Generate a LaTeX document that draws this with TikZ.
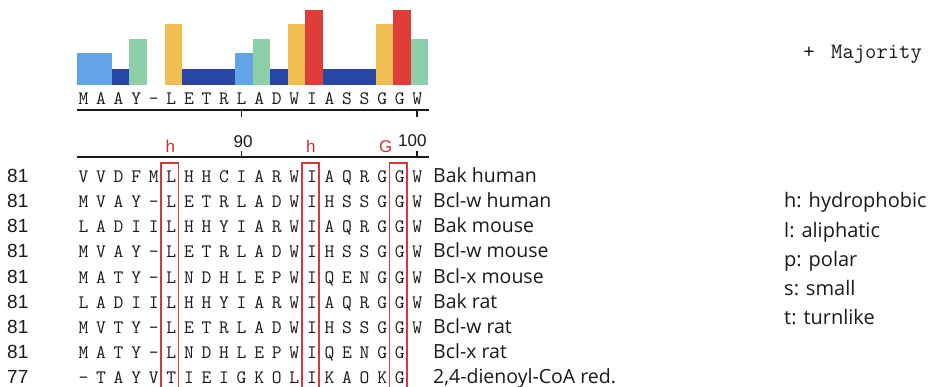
\documentclass[tikz,border=0pt]{standalone}
\usepackage{fontspec}
\setmainfont{Open Sans}
\newfontfamily\numfont{Liberation Sans}

\definecolor{ink}{HTML}{1A1A1A}
\definecolor{hred}{HTML}{C8323C}
\definecolor{boxred}{HTML}{D03C3C}
\definecolor{lblue}{HTML}{63A4E8}
\definecolor{dblue}{HTML}{2746A6}
\definecolor{mint}{HTML}{8DCFA8}
\definecolor{gold}{HTML}{F0BE52}
\definecolor{brick}{HTML}{E03C3A}

% column centre of residue i and bar left edge of column i
\newcommand\colx[1]{83.5+17.57*(#1)}
\newcommand\barx[1]{76.7+17.58*(#1)}

% one aligned sequence: name prefix, baseline, start number, residues, species
\newcommand\seqrow[5]{%
  \node[num] (#1-n) at (7,#2) {#3};
  \foreach \ch [count=\i from 0] in {#4} {\node[res] (#1-\i) at ({\colx{\i}},#2) {\ch};}
  \node[species] (#1-name) at (433,#2) {#5};
}

\begin{document}
\begin{tikzpicture}[x=1pt,y=-1pt,
  res/.style={font=\ttfamily\fontsize{19}{19}\selectfont, inner sep=0pt, anchor=base, text=ink},
  num/.style={font=\numfont\fontsize{19}{19}\selectfont, inner sep=0pt, anchor=base west, text=ink},
  species/.style={font=\fontsize{19.5}{19.5}\selectfont, inner sep=0pt, anchor=base west, text=ink},
  legend/.style={font=\fontsize{20}{20}\selectfont, inner sep=0pt, anchor=base west, text=ink},
  ruler/.style={font=\numfont\fontsize{17}{17}\selectfont, inner sep=0pt, anchor=base, text=ink},
  motif/.style={font=\numfont\fontsize{17}{17}\selectfont, inner sep=0pt, anchor=base, text=hred},
  rule/.style={draw=ink, line width=1.7pt},
  hbox/.style={draw=boxred, line width=1.8pt},
  ]
\useasboundingbox (0,0) rectangle (936,387);
\fill[white] (0,0) rectangle (936,387);

% majority consensus bar chart
\foreach \i/\c/\top in {0/lblue/53.3, 1/lblue/53.3, 2/dblue/69.3, 3/mint/39,
    5/gold/24.3, 6/dblue/69.3, 7/dblue/69.3, 8/dblue/69.3, 9/lblue/53.3,
    10/mint/39, 11/dblue/69.3, 12/gold/24.3, 13/brick/9.7, 14/dblue/69.3,
    15/dblue/69.3, 16/dblue/69.3, 17/gold/24.3, 18/brick/9.7, 19/mint/39}
  \fill[\c] ({\barx{\i}},85) rectangle ({\barx{\i+1}},\top);

% consensus sequence with its underline
\foreach \ch [count=\i from 0] in {M,A,A,Y,-,L,E,T,R,L,A,D,W,I,A,S,S,G,G,W}
  \node[res] (cons-\i) at ({\colx{\i}},105) {\ch};
\draw[rule] (76.7,110) -- (428.5,110);
\draw[rule] ({\colx{9}},110) -- ++(0,7);
\draw[rule] ({\colx{19}},110) -- ++(0,7);

\node[res, font=\ttfamily\fontsize{22}{22}\selectfont] (plus) at (809,59) {+};
\node[res, anchor=base west, font=\ttfamily\fontsize{22}{22}\selectfont] (majority) at (831,59) {Majority};

% position ruler and motif labels
\draw[rule] (76.7,157) -- (428.5,157);
\draw[rule] ({\colx{9}},157) -- ++(0,-6);
\draw[rule] ({\colx{19}},157) -- ++(0,-6);
\node[ruler] (p90) at ({\colx{9}+1.5},148) {90};
\node[ruler] (p100) at ({\colx{19}-5},147) {100};
\node[motif] (m1) at ({\colx{5}-1},153) {h};
\node[motif] (m2) at ({\colx{13}-1},153) {h};
\node[motif] (m3) at ({\colx{18}-14},153) {G};

% aligned sequences
\seqrow{r1}{183}{81}{V,V,D,F,M,L,H,H,C,I,A,R,W,I,A,Q,R,G,G,W}{Bak human}
\seqrow{r2}{208}{81}{M,V,A,Y,-,L,E,T,R,L,A,D,W,I,H,S,S,G,G,W}{Bcl-w human}
\seqrow{r3}{233}{81}{L,A,D,I,I,L,H,H,Y,I,A,R,W,I,A,Q,R,G,G,W}{Bak mouse}
\seqrow{r4}{258}{81}{M,V,A,Y,-,L,E,T,R,L,A,D,W,I,H,S,S,G,G,W}{Bcl-w mouse}
\seqrow{r5}{283}{81}{M,A,T,Y,-,L,N,D,H,L,E,P,W,I,Q,E,N,G,G,W}{Bcl-x mouse}
\seqrow{r6}{308}{81}{L,A,D,I,I,L,H,H,Y,I,A,R,W,I,A,Q,R,G,G,W}{Bak rat}
\seqrow{r7}{333}{81}{M,V,T,Y,-,L,E,T,R,L,A,D,W,I,H,S,S,G,G,W}{Bcl-w rat}
\seqrow{r8}{358}{81}{M,A,T,Y,-,L,N,D,H,L,E,P,W,I,Q,E,N,G,G}{Bcl-x rat}
\seqrow{r9}{383}{77}{-,T,A,Y,V,T,I,E,I,G,K,O,L,I,K,A,O,K,G}{2,4-dienoyl-CoA red.}

% conserved columns, open at the bottom
\foreach \c in {5,13,18}
  \draw[hbox] ({\colx{\c}-10.2},392) -- ({\colx{\c}-10.2},163)
              -- ({\colx{\c}+7.2},163) -- ({\colx{\c}+7.2},392);

% legend
\node[legend] (lg-h) at (784,208) {h: hydrophobic};
\node[legend] (lg-l) at (784,237) {l: aliphatic};
\node[legend] (lg-p) at (784,266) {p: polar};
\node[legend] (lg-s) at (784,295) {s: small};
\node[legend] (lg-t) at (784,324) {t: turnlike};
\end{tikzpicture}
\end{document}
